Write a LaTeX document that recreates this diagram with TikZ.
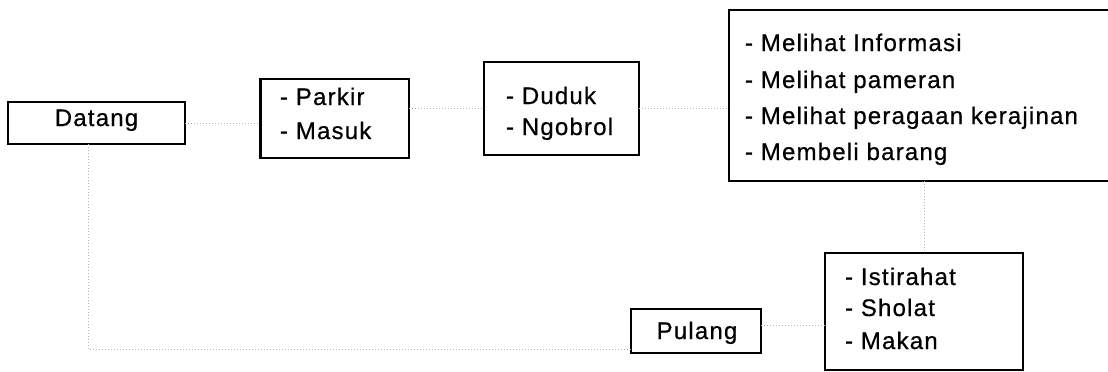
\documentclass[tikz,border=0pt]{standalone}
\usepackage{fontspec}
\setmainfont{Liberation Sans}[LetterSpace=5,FakeBold=0.6]
\begin{document}
\begin{tikzpicture}[x=1pt,y=-1pt,
  every node/.style={font=\fontsize{24}{28}\selectfont, inner sep=0pt, outer sep=0pt},
  boxnode/.style={draw=black, line width=1.3pt, fill=white, rectangle},
  lbl/.style={anchor=base west},
  conn/.style={draw=gray!55, line width=0.8pt, dash pattern=on 1pt off 2pt}]
\useasboundingbox (0,0) rectangle (1108,372);
\clip (0,0) rectangle (1108,372);
% boxes
\node[boxnode, minimum width=177pt, minimum height=42pt] (datang) at (96.5,123) {};
\node[boxnode, minimum width=149pt, minimum height=79pt] (parkir) at (334.5,118.5) {};
\node[boxnode, minimum width=155pt, minimum height=93pt] (duduk) at (561.5,108.5) {};
\node[boxnode, minimum width=400pt, minimum height=171pt] (melihat) at (929,95.5) {};
\node[boxnode, minimum width=198pt, minimum height=117pt] (istirahat) at (924,311.5) {};
\node[boxnode, minimum width=130pt, minimum height=44pt] (pulang) at (696,331) {};
\draw[line width=3pt] ([xshift=0.9pt]parkir.north west) -- ([xshift=0.9pt]parkir.south west);
% connectors
\coordinate (corner) at (88,349);
\draw[conn] (datang.east) -- (datang.east -| parkir.west);
\draw[conn] (parkir.east |- duduk.west) -- (duduk.west);
\draw[conn] (duduk.east) -- (duduk.east -| melihat.west);
\draw[conn] (istirahat.north |- melihat.south) -- (istirahat.north);
\draw[conn] ([yshift=6pt]pulang.east) -- ([yshift=6pt]pulang.east -| istirahat.west);
\draw[conn] (datang.south -| corner) -- (corner) -- (corner -| pulang.west);
% texts
\node[anchor=base] (tdatang) at (96.5,126) {Datang};
\node[lbl] (t1a) at (280,105) {- Parkir};
\node[lbl] (t1b) at (280,139) {- Masuk};
\node[lbl] (t2a) at (506,104) {- Duduk};
\node[lbl] (t2b) at (506,135) {- Ngobrol};
\node[lbl] (t3a) at (745,51) {- Melihat Informasi};
\node[lbl] (t3b) at (745,88) {- Melihat pameran};
\node[lbl] (t3c) at (745,124) {- Melihat peragaan kerajinan};
\node[lbl] (t3d) at (745,160) {- Membeli barang};
\node[lbl] (t4a) at (845,285) {- Istirahat};
\node[lbl] (t4b) at (845,316) {- Sholat};
\node[lbl] (t4c) at (845,349) {- Makan};
\node[anchor=base] (tpulang) at (697,339) {Pulang};
\end{tikzpicture}
\end{document}
